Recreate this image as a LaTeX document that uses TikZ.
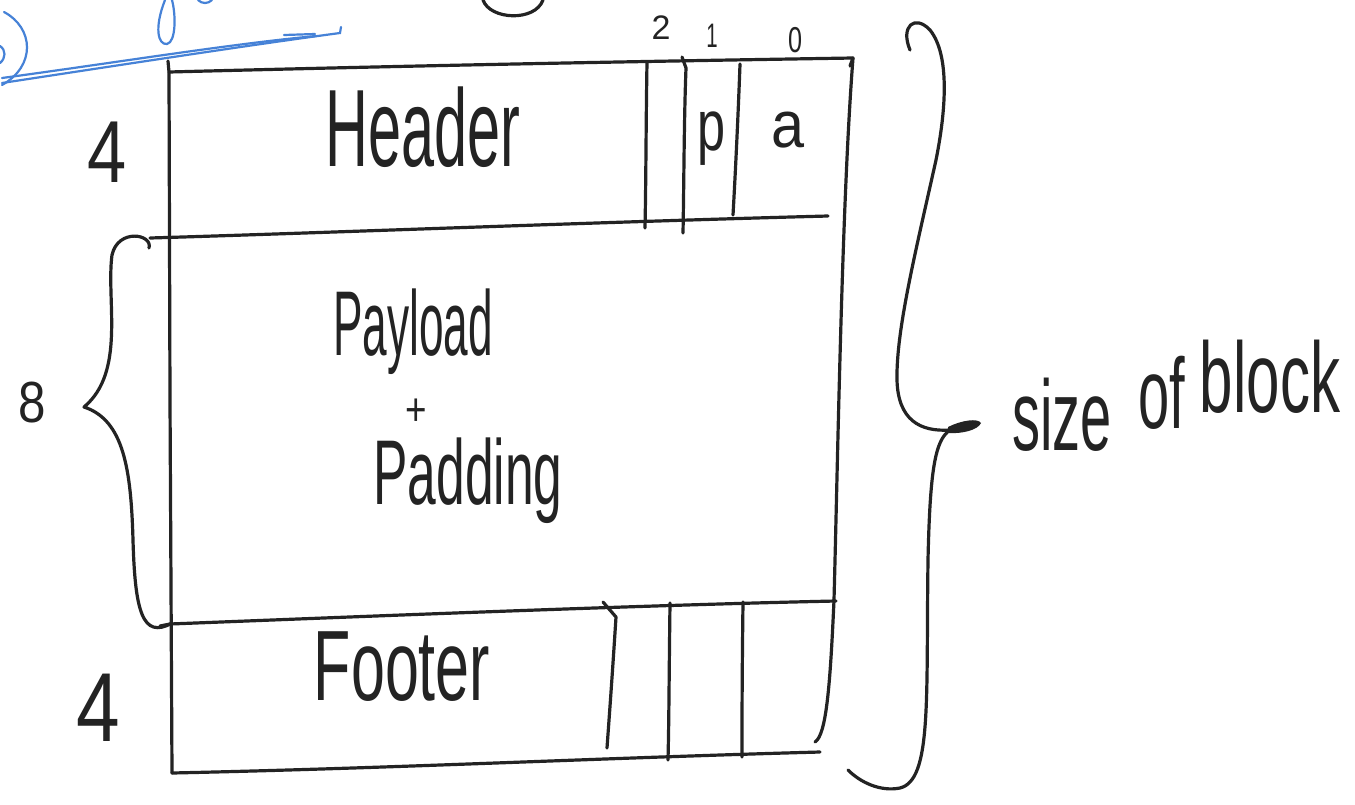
\documentclass[tikz,border=0pt]{standalone}
\usepackage{fontspec}
\setmainfont{Liberation Sans}
\definecolor{ink}{RGB}{35,35,35}
\definecolor{blueink}{RGB}{70,130,215}
\tikzset{
  pen/.style={draw=ink, line width=3.2pt, line cap=round, line join=round},
  bluepen/.style={draw=blueink, line width=2.2pt, line cap=round},
  hw/.style={text=ink, inner sep=0pt},
}
\newcommand{\hwfont}[1]{\fontsize{#1}{#1}\selectfont}
\begin{document}
\begin{tikzpicture}[x=1pt,y=-1pt]
\useasboundingbox (0,0) rectangle (1355,804);
\fill[white] (0,0) rectangle (1355,804);

% stray blue pen strokes along the top-left edge
\draw[bluepen] (2,83) .. controls (120,65) and (250,45) .. (340,33) -- (341,27);
\draw[bluepen] (2,78) .. controls (120,62) and (230,44) .. (316,36);
\draw[bluepen] (284,35) -- (315,34);
\draw[bluepen] (4,12) .. controls (34,28) and (36,66) .. (2,85);
\draw[bluepen] (0,46) .. controls (6,50) and (6,58) .. (0,63);
\draw[bluepen] (165,0) .. controls (154,28) and (158,45) .. (167,44) .. controls (176,42) and (176,15) .. (172,0);
\draw[bluepen] (198,0) .. controls (202,4) and (208,4) .. (212,0);

% partial circle at the top edge
\draw[pen] (483,0) .. controls (490,20) and (535,22) .. (543,0);

% block outline
\coordinate (tl) at (169,72);
\coordinate (tr) at (853,58);
\coordinate (bl) at (172,773);
\coordinate (br) at (820,752);
\draw[pen] (tl) .. controls (400,66) and (600,62) .. (tr) -- (850,66);
\draw[pen] (168,61) -- (tl) -- (170,400) -- (bl);
\draw[pen] (tr) .. controls (842,200) and (838,450) .. (834,600) .. controls (830,690) and (826,735) .. (815,742);
\draw[pen] (bl) .. controls (400,768) and (600,758) .. (br);

% header / payload / footer separators
\draw[pen] (150,238) .. controls (350,232) and (600,222) .. (828,216);
\draw[pen] (160,626) -- (170,624) .. controls (400,615) and (650,605) .. (836,601);

% header bit cells
\draw[pen] (647,62) .. controls (646,120) and (646,180) .. (645,228);
\draw[pen] (682,57) -- (686,68) .. controls (684,120) and (684,180) .. (683,233);
\draw[pen] (740,64) .. controls (738,120) and (735,180) .. (733,215);

% footer bit cells
\draw[pen] (603,602) -- (616,617) .. controls (612,680) and (609,720) .. (607,748);
\draw[pen] (670,603) .. controls (669,680) and (669,720) .. (668,760);
\draw[pen] (743,602) .. controls (742,680) and (742,720) .. (742,757);

% braces
\draw[pen] (149,248) .. controls (153,234) and (118,228) .. (112,255)
  .. controls (106,300) and (126,372) .. (84,407)
  .. controls (124,420) and (131,470) .. (133,540)
  .. controls (135,610) and (142,640) .. (172,623);
\draw[pen] (910,50) .. controls (900,26) and (915,14) .. (930,30)
  .. controls (950,55) and (946,110) .. (936,160)
  .. controls (916,250) and (896,330) .. (897,380)
  .. controls (898,420) and (920,432) .. (950,430)
  .. controls (935,440) and (930,470) .. (928,560)
  .. controls (926,700) and (932,780) .. (900,788)
  .. controls (880,792) and (860,782) .. (848,770);
\fill[ink] (948,427) .. controls (962,420) and (978,418) .. (981,423) .. controls (978,430) and (962,434) .. (948,433) -- cycle;

% field labels
\node[hw, anchor=base] (header) at (423,166) {\hwfont{110}\scalebox{0.54}[1]{Header}};
\node[hw, anchor=base] (payload) at (413,355) {\hwfont{92}\scalebox{0.48}[1]{Payload}};
\node[hw] (plus) at (416,412) {\hwfont{46}\scalebox{0.8}[1]{+}};
\node[hw, anchor=base] (padding) at (468,504) {\hwfont{92}\scalebox{0.56}[1]{Padding}};
\node[hw, anchor=base] (footer) at (402,700) {\hwfont{100}\scalebox{0.61}[1]{Footer}};
\node[hw, anchor=base] (pbit) at (712,150) {\hwfont{72}\scalebox{0.7}[1]{p}};
\node[hw, anchor=base] (abit) at (788,147) {\hwfont{66}\scalebox{0.9}[1]{a}};

% bit numbers
\node[hw] (n2) at (661,28) {\hwfont{34}2};
\node[hw] (n1) at (712,36) {\hwfont{34}\scalebox{0.6}[1]{1}};
\node[hw] (n0) at (795,40) {\hwfont{36}\scalebox{0.7}[1]{0}};

% sizes
\node[hw] (hsize) at (107,152) {\hwfont{88}\scalebox{0.8}[1]{4}};
\node[hw] (psize) at (32,403) {\hwfont{58}\scalebox{0.85}[1]{8}};
\node[hw] (fsize) at (98,708) {\hwfont{98}\scalebox{0.8}[1]{4}};

% whole-block size, three words stepping upward to the right
\node[hw, anchor=base] (bsize1) at (1062,450) {\hwfont{100}\scalebox{0.56}[1]{size}};
\node[hw, anchor=base] (bsize2) at (1162,428) {\hwfont{100}\scalebox{0.56}[1]{of}};
\node[hw, anchor=base] (bsize3) at (1270,412) {\hwfont{100}\scalebox{0.6}[1]{block}};
\end{tikzpicture}
\end{document}
